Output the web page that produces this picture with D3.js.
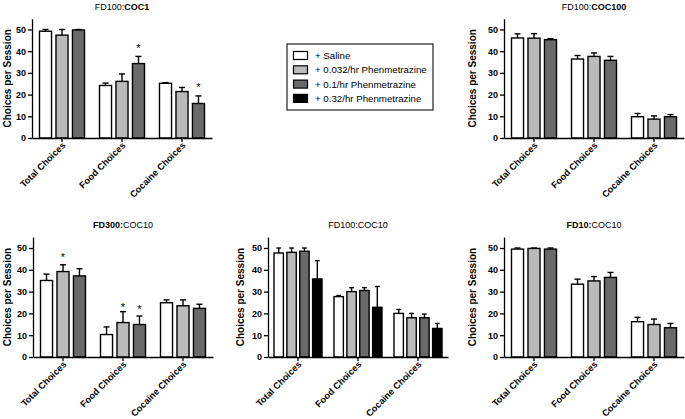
<!DOCTYPE html>
<html><head><meta charset="utf-8">
<script src="https://cdn.jsdelivr.net/npm/d3@7"></script>
<style>
body{margin:0;background:#fff;}
svg{display:block;font-family:Arial,"Liberation Sans",sans-serif;}
</style></head>
<body><svg id="c" width="685" height="419"></svg>
<script>
// ---------- data ----------
const groups = ["Total Choices", "Food Choices", "Cocaine Choices"];
const seriesNames = ["+ Saline", "+ 0.032/hr Phenmetrazine", "+ 0.1/hr Phenmetrazine", "+ 0.32/hr Phenmetrazine"];
const seriesColors = ["#ffffff", "#bababa", "#696969", "#000000"];
const yTicks = [0, 10, 20, 30, 40, 50];
const yMax = 55;
const yLabel = "Choices per Session";

// means [group][series], sem [group][series]
const fd100coc1Mean = [[49.2, 47.4, 49.8], [24.2, 26.1, 34.3], [25.2, 21.4, 15.9]];
const fd100coc1Sem  = [[0.8, 2.6, 0.2], [1.1, 3.4, 3.3], [0.3, 1.9, 3.5]];
const fd100coc1Stars = [[1, 2, 42.3], [2, 2, 24.2]]; // [group, series, value]

const fd100coc100Mean = [[46.1, 46.0, 45.3], [36.4, 37.6, 35.8], [9.8, 8.7, 9.8]];
const fd100coc100Sem  = [[1.9, 2.1, 0.5], [1.6, 1.6, 1.8], [1.5, 1.5, 1.0]];

const fd300coc10Mean = [[35.1, 39.2, 37.2], [10.3, 15.8, 14.9], [24.9, 23.5, 22.3]];
const fd300coc10Sem  = [[2.9, 3.1, 3.3], [3.5, 5.0, 3.9], [1.3, 2.7, 1.9]];
const fd300coc10Stars = [[0, 1, 46.8], [1, 1, 23.9], [1, 2, 23.1]];

const fd100coc10Mean = [[47.7, 48.0, 48.5, 35.8], [27.7, 30.0, 30.5, 22.8], [20.0, 18.0, 18.0, 13.1]];
const fd100coc10Sem  = [[2.3, 2.0, 1.5, 8.4], [0.5, 1.8, 1.3, 9.5], [1.8, 2.0, 1.7, 2.3]];

const fd10coc10Mean = [[49.5, 49.8, 49.5], [33.4, 34.9, 36.5], [16.2, 14.9, 13.4]];
const fd10coc10Sem  = [[0.5, 0.2, 0.5], [2.3, 2.0, 2.3], [2.0, 2.5, 2.0]];

// title parts: [text, bold]
const titles = [
  [["FD100:", false], ["COC1", true]],
  [["FD100:", false], ["COC100", true]],
  [["FD300:", true], ["COC10", false]],
  [["FD100:COC10", false]],
  [["FD10:", true], ["COC10", false]]
];

// ---------- layout ----------
const panels = [
  {mean: fd100coc1Mean, sem: fd100coc1Sem, stars: fd100coc1Stars, title: titles[0], ax: 32, y0: 138, y50: 29.5, labX: 7, titleY: 10},
  {mean: fd100coc100Mean, sem: fd100coc100Sem, stars: [], title: titles[1], ax: 504, y0: 138, y50: 29.5, labX: 472, titleY: 10},
  {mean: fd300coc10Mean, sem: fd300coc10Sem, stars: fd300coc10Stars, title: titles[2], ax: 33, y0: 357, y50: 248, labX: 7, titleY: 228},
  {mean: fd100coc10Mean, sem: fd100coc10Sem, stars: [], title: titles[3], ax: 268, y0: 357, y50: 248, labX: 240, titleY: 228},
  {mean: fd10coc10Mean, sem: fd10coc10Sem, stars: [], title: titles[4], ax: 504, y0: 357, y50: 248, labX: 472, titleY: 228}
];
const plotW = 180;

const svg = d3.select("#c");

panels.forEach(p => {
  const nS = p.mean[0].length;
  const g = svg.append("g");
  const y = d3.scaleLinear().domain([0, 50]).range([p.y0, p.y50]);
  const x0 = d3.scaleBand().domain(groups).range([p.ax, p.ax + plotW]).paddingInner(0.25).paddingOuter(0.125);
  const x1 = d3.scaleBand().domain(d3.range(nS)).range([0, x0.bandwidth() + (nS > 3 ? 3 : 0)]).paddingInner(0.27);
  const shift = nS > 3 ? -1.5 : 0;

  // bars
  groups.forEach((grp, gi) => {
    const gg = g.append("g").attr("transform", `translate(${x0(grp) + shift},0)`);
    const rows = p.mean[gi].map((m, si) => ({m, s: p.sem[gi][si], si}));
    gg.selectAll("rect").data(rows).join("rect")
      .attr("x", d => x1(d.si))
      .attr("y", d => y(d.m))
      .attr("width", x1.bandwidth())
      .attr("height", d => y(0) - y(d.m))
      .attr("fill", d => seriesColors[d.si])
      .attr("stroke", "#000").attr("stroke-width", 1.4);
    // error bars
    gg.selectAll("line.err").data(rows).join("line").attr("class", "err")
      .attr("x1", d => x1(d.si) + x1.bandwidth() / 2)
      .attr("x2", d => x1(d.si) + x1.bandwidth() / 2)
      .attr("y1", d => y(d.m))
      .attr("y2", d => y(d.m + d.s))
      .attr("stroke", "#000").attr("stroke-width", 1.4);
    gg.selectAll("line.cap").data(rows).join("line").attr("class", "cap")
      .attr("x1", d => x1(d.si) + x1.bandwidth() / 2 - x1.bandwidth() / 4)
      .attr("x2", d => x1(d.si) + x1.bandwidth() / 2 + x1.bandwidth() / 4)
      .attr("y1", d => y(d.m + d.s))
      .attr("y2", d => y(d.m + d.s))
      .attr("stroke", "#000").attr("stroke-width", 1.4);
  });

  // stars
  g.selectAll("text.star").data(p.stars).join("text").attr("class", "star")
    .attr("x", d => x0(groups[d[0]]) + shift + x1(d[1]) + x1.bandwidth() / 2)
    .attr("y", d => y(d[2]) + 6)
    .attr("text-anchor", "middle")
    .attr("font-size", 11).attr("fill", "#000")
    .text("*");

  // y axis
  const ya = g.append("g").attr("transform", `translate(${p.ax},0)`)
    .call(d3.axisLeft(y.copy().domain([0, yMax]).range([p.y0, p.y0 - (p.y0 - p.y50) * yMax / 50])).tickValues(yTicks).tickSize(4).tickSizeOuter(0).tickPadding(2));
  ya.select(".domain").attr("stroke-width", 1.3);
  ya.selectAll(".tick line").attr("stroke-width", 1.3);
  ya.selectAll("text").attr("font-size", 9).attr("font-weight", "bold").attr("font-family", "Arial, 'Liberation Sans', sans-serif").attr("fill", "#000");

  // x axis
  const xa = g.append("g").attr("transform", `translate(0,${p.y0})`)
    .call(d3.axisBottom(x0).tickSize(4).tickSizeOuter(0).tickFormat(""));
  xa.select(".domain").attr("stroke-width", 1.3);
  xa.selectAll(".tick line").attr("stroke-width", 1.3);
  g.selectAll("text.xl").data(groups).join("text").attr("class", "xl")
    .attr("transform", d => `translate(${x0(d) + x0.bandwidth() / 2 + 4},${p.y0 + 8}) rotate(-45)`)
    .attr("text-anchor", "end")
    .attr("font-size", 9.2).attr("font-weight", "bold").attr("fill", "#000")
    .text(d => d);

  // y label
  g.append("text")
    .attr("transform", `translate(${p.labX + 4},${(p.y0 + p.y0 - (p.y0 - p.y50) * yMax / 50) / 2}) rotate(-90)`)
    .attr("text-anchor", "middle")
    .attr("font-size", 10).attr("font-weight", "bold").attr("fill", "#000")
    .text(yLabel);

  // title
  const t = g.append("text")
    .attr("x", p.ax + plotW / 2).attr("y", p.titleY)
    .attr("text-anchor", "middle").attr("font-size", 9).attr("fill", "#000");
  p.title.forEach(([s, b]) => t.append("tspan").attr("font-weight", b ? "bold" : "normal").text(s));
});

// legend
const lg = svg.append("g");
lg.append("rect").attr("x", 287).attr("y", 44).attr("width", 146).attr("height", 66)
  .attr("fill", "#fff").attr("stroke", "#222").attr("stroke-width", 1.2);
const li = lg.selectAll("g.it").data(seriesNames).join("g").attr("class", "it")
  .attr("transform", (d, i) => `translate(293,${55.5 + i * 14.3})`);
li.append("rect").attr("x", 0.5).attr("y", -4).attr("width", 14).attr("height", 8)
  .attr("fill", (d, i) => seriesColors[i]).attr("stroke", "#000").attr("stroke-width", 1.2);
li.append("text").attr("x", 22).attr("y", 0).attr("dy", "0.35em")
  .attr("font-size", 9.7).attr("fill", "#000").text(d => d);
</script>
</body></html>
